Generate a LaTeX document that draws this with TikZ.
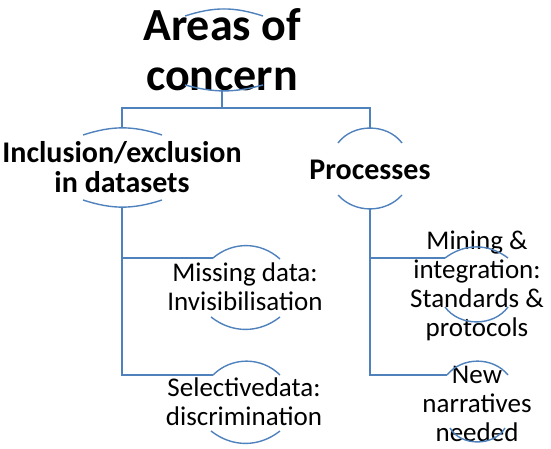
\documentclass[tikz,border=0pt]{standalone}
\usepackage{fontspec}
\setmainfont{Carlito}
\definecolor{arcblue}{RGB}{79,129,189}
\tikzset{
  arcline/.style={draw=arcblue, line width=1.4pt},
  conn/.style={draw=arcblue, line width=1.4pt},
  bigtitle/.style={inner sep=0pt, align=center, font=\bfseries\fontsize{46}{50}\selectfont},
  boldlbl/.style={inner sep=0pt, align=center, font=\bfseries\fontsize{30}{30}\selectfont},
  lbl/.style={inner sep=0pt, align=center, font=\fontsize{27}{29}\selectfont}
}
\begin{document}
\begin{tikzpicture}[x=1pt, y=-1pt]
\useasboundingbox (0,0) rectangle (551,449);
% text nodes
\node[bigtitle] (title) at (222,50) {Areas of\\concern};
\node[boldlbl] (incl) at (122,167) {Inclusion/exclusion\\in datasets};
\node[boldlbl] (proc) at (370,170) {Processes};
\node[lbl] (miss) at (245,287) {Missing data:\\Invisibilisation};
\node[lbl] (sel) at (244,402) {Selectivedata:\\discrimination};
\node[lbl] (mine) at (477,286) {Mining \&\\integration:\\Standards \&\\protocols};
\node[lbl] (new) at (477,404) {New\\narratives\\needed};
% arc end points and connector anchors
\coordinate (tTL) at (185,16);  \coordinate (tTR) at (263,16);
\coordinate (tBL) at (185,85);  \coordinate (tBR) at (263,85);
\coordinate (tB) at (222,91);
\coordinate (j) at (222,108);
\coordinate (iTL) at (83,135);  \coordinate (iTR) at (162,135);
\coordinate (iBL) at (83,200);  \coordinate (iBR) at (162,200);
\coordinate (iT) at (122,128);  \coordinate (iB) at (122,207);
\coordinate (pTL) at (338,143); \coordinate (pTR) at (402,143);
\coordinate (pBL) at (338,195); \coordinate (pBR) at (402,195);
\coordinate (pT) at (370,128);  \coordinate (pB) at (370,209);
\coordinate (mTL) at (213,258); \coordinate (mTR) at (280,259);
\coordinate (mBL) at (211,317); \coordinate (mBR) at (280,317);
\coordinate (sTL) at (213,375); \coordinate (sTR) at (280,375);
\coordinate (sBL) at (211,431); \coordinate (sBR) at (280,431);
\coordinate (nmTL) at (445,258); \coordinate (nmTR) at (508,258);
\coordinate (nmBL) at (445,307); \coordinate (nmBR) at (508,307);
\coordinate (nwTL) at (447,375); \coordinate (nwTR) at (508,375);
\coordinate (nwBL) at (450,428); \coordinate (nwBR) at (505,428);
% arcs
\draw[arcline] (tTL) to[bend left=18] (tTR);
\draw[arcline] (tBL) to[bend right=15] (tBR);
\draw[arcline] (iTL) to[bend left=18] (iTR);
\draw[arcline] (iBL) to[bend right=18] (iBR);
\draw[arcline] (pTL) to[bend left=53] (pTR);
\draw[arcline] (pBL) to[bend right=48] (pBR);
\draw[arcline] (mTL) to[bend left=41] (mTR);
\draw[arcline] (mBL) to[bend right=38] (mBR);
\draw[arcline] (sTL) to[bend left=45] (sTR);
\draw[arcline] (sBL) to[bend right=38] (sBR);
\draw[arcline] (nmTL) to[bend left=37] (nmTR);
\draw[arcline] (nmBL) to[bend right=54] (nmBR);
\draw[arcline] (nwTL) to[bend left=51] (nwTR);
\draw[arcline] (nwBL) to[bend right=60] (nwBR);
% connectors
\draw[conn] (tB) -- (j);
\draw[conn] (j) -| (iT);
\draw[conn] (j) -| (pT);
\draw[conn] (iB) |- (mTL);
\draw[conn] (iB) |- (sTL);
\draw[conn] (pB) |- (nmTL);
\draw[conn] (pB) |- (nwTL);
\end{tikzpicture}
\end{document}
